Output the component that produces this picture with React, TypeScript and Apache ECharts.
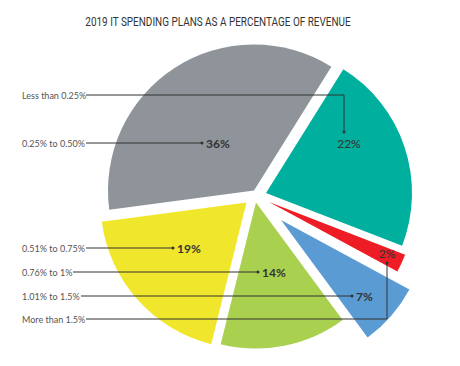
import { useEffect, useRef } from "react";
import * as echarts from "echarts";

// ---- data ----
const title = "2019 IT SPENDING PLANS AS A PERCENTAGE OF REVENUE";
const categories = [
  "Less than 0.25%",
  "0.25% to 0.50%",
  "0.51% to 0.75%",
  "0.76% to 1%",
  "1.01% to 1.5%",
  "More than 1.5%",
];
const values = [22, 36, 19, 14, 7, 2];

// ---- styling / layout ----
const colors = ["#00af9e", "#8e9499", "#f0e72d", "#a9d04f", "#5b9bd4", "#ee1d25"];
// per-slice exploded centers (pixels)
const sliceCenters = [
  [266, 193],
  [254, 190.5],
  [246.5, 202.5],
  [256, 202.5],
  [281, 220],
  [269, 202],
];
const labelY = [95, 143, 248, 272, 296, 319];
const lineStartX = [86, 86, 86, 73, 81, 86];
// leader line paths after the horizontal start: list of points
const leaderEnds = [
  [[344, 95], [344, 132]],
  [[202, 143]],
  [[173, 248]],
  [[258, 272]],
  [[352, 296]],
  [[387, 319], [387, 263]],
];
const pctPos = [
  { x: 349, y: 143, align: "center", weight: 500 },
  { x: 206, y: 143, align: "left", weight: "bold" },
  { x: 177, y: 248, align: "left", weight: "bold" },
  { x: 262, y: 272, align: "left", weight: "bold" },
  { x: 356, y: 296, align: "left", weight: "bold" },
  { x: 387, y: 253, align: "center", weight: 500 },
];

const TITLE_FONT = "13px Roboto, sans-serif";
const TITLE_WIDTH = 266;

function measure(text: string, font: string): number {
  const c = document.createElement("canvas").getContext("2d");
  if (!c) return TITLE_WIDTH;
  c.font = font;
  return c.measureText(text).width || TITLE_WIDTH;
}

export default function App() {
  const ref = useRef<HTMLDivElement>(null);
  useEffect(() => {
    document.body.style.margin = "0";
    if (!ref.current) return;
    const chart = echarts.init(ref.current, undefined, { renderer: "svg" });

    const series = categories.map((_, i) => ({
      type: "pie",
      center: sliceCenters[i],
      radius: 146,
      startAngle: 338.8,
      clockwise: false,
      silent: true,
      avoidLabelOverlap: false,
      label: { show: false },
      labelLine: { show: false },
      emphasis: { disabled: true },
      itemStyle: { borderWidth: 0 },
      data: categories.map((c, j) => ({
        name: c,
        value: values[j],
        itemStyle: { color: j === i ? colors[i] : "rgba(0,0,0,0)" },
      })),
    }));

    const titleScale = TITLE_WIDTH / measure(title, TITLE_FONT);

    const graphics: any[] = [];
    graphics.push({
      type: "text",
      x: 218,
      y: 22,
      scaleX: titleScale,
      style: {
        text: title,
        fill: "#333",
        font: TITLE_FONT,
        textAlign: "center",
        textVerticalAlign: "middle",
      },
    });
    categories.forEach((c, i) => {
      graphics.push({
        type: "text",
        x: 22,
        y: labelY[i],
        style: {
          text: c,
          fill: "#555",
          font: "9px Lato, sans-serif",
          textAlign: "left",
          textVerticalAlign: "middle",
        },
      });
      const pts = [[lineStartX[i], leaderEnds[i][0][1]], ...leaderEnds[i]];
      graphics.push({
        type: "polyline",
        shape: { points: pts },
        style: { stroke: "#333", lineWidth: 1, fill: "none" },
        z: 10,
      });
      const end = pts[pts.length - 1];
      graphics.push({
        type: "circle",
        shape: { cx: end[0], cy: end[1], r: 1.5 },
        style: { fill: "#333" },
        z: 10,
      });
      const p = pctPos[i];
      graphics.push({
        type: "text",
        x: p.x,
        y: p.y,
        z: 10,
        style: {
          text: `${values[i]}%`,
          fill: "#333",
          font: `${p.weight} 12px Lato, sans-serif`,
          textAlign: p.align,
          textVerticalAlign: "middle",
        },
      });
    });

    chart.setOption({
      animation: false,
      backgroundColor: "#fff",
      series,
      graphic: { elements: graphics },
    });
    return () => chart.dispose();
  }, []);
  return <div ref={ref} style={{ width: 460, height: 366 }} />;
}
